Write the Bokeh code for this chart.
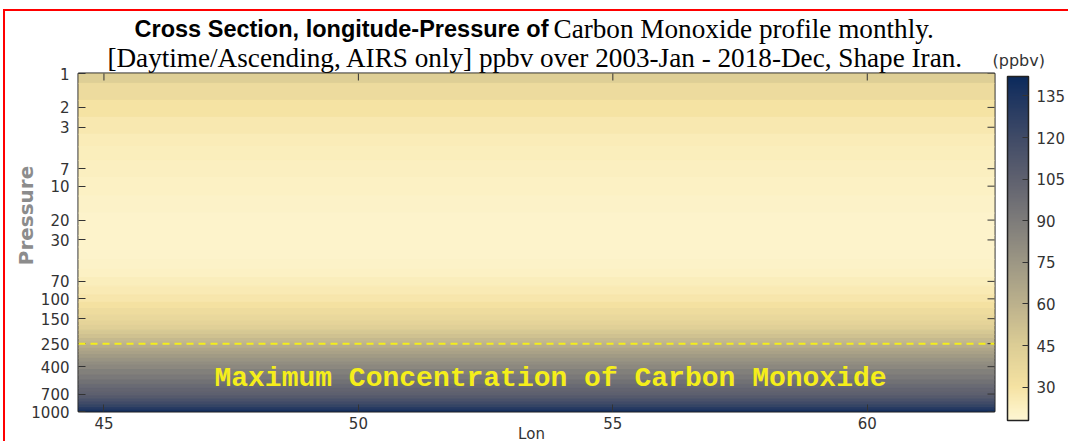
import numpy as np
from bokeh.plotting import figure
from bokeh.models import (Range1d, FixedTicker, PrintfTickFormatter,
                          ColorBar, LinearColorMapper, Span, Label, ColumnDataSource)
from bokeh.embed import file_html
from bokeh.resources import INLINE

# ---------------- data ----------------
title_bold = "Cross Section, longitude-Pressure of"
title_serif = "Carbon Monoxide profile monthly."
title_line2 = "[Daytime/Ascending, AIRS only] ppbv over 2003-Jan - 2018-Dec, Shape Iran."
annotation_text = "Maximum Concentration of Carbon Monoxide"
y_label = "Pressure"
x_label = "Lon"
cbar_title = "(ppbv)"

lon_min, lon_max = 44.5, 62.5
lon_ticks = [45, 50, 55, 60]
pressure_ticks = [1, 2, 3, 7, 10, 20, 30, 70, 100, 150, 250, 400, 700, 1000]
cbar_ticks = [30, 45, 60, 75, 90, 105, 120, 135]
cbar_low, cbar_high = 18, 142
max_level = 250  # hPa, dashed line

pressure = [1, 1.5, 2, 3, 4, 5, 7, 10, 15, 20, 25, 30, 40, 50, 60, 70, 85, 100,
            115, 130, 150, 165, 180, 200, 215, 235, 250, 265, 285, 300, 325, 350,
            375, 400, 450, 500, 550, 600, 650, 700, 750, 800, 850, 900, 950, 1000]
co_ppbv = [44, 35, 30, 27, 25, 24, 23, 22, 21, 20, 20, 20, 20, 21, 22, 24, 26, 28,
           31, 34, 37, 40, 43, 48, 51, 56, 59, 62, 66, 69, 73, 77,
           80, 83, 88, 92, 96, 100, 103, 106, 110, 115, 120, 125, 131, 138]

# ---------------- colormap ----------------
anchor_vals = [18, 22, 30, 45, 60, 75, 90, 105, 120, 135, 142]
anchor_cols = ["#fdf5d2", "#fcf1c4", "#f5e2a2", "#dccd95", "#bcb18c", "#9d9784",
               "#7e7c7a", "#5f616f", "#404b67", "#1e3560", "#0b2a5c"]


def hex2rgb(h):
    return [int(h[i:i + 2], 16) for i in (1, 3, 5)]


rgb = np.array([hex2rgb(c) for c in anchor_cols], dtype=float)
grid = np.linspace(cbar_low, cbar_high, 256)
palette = []
for g in grid:
    r = np.interp(g, anchor_vals, rgb[:, 0])
    gg = np.interp(g, anchor_vals, rgb[:, 1])
    b = np.interp(g, anchor_vals, rgb[:, 2])
    palette.append("#%02x%02x%02x" % (int(round(r)), int(round(gg)), int(round(b))))

mapper = LinearColorMapper(palette=palette, low=cbar_low, high=cbar_high)

# band edges (geometric midpoints between levels)
p_arr = np.array(pressure, dtype=float)
mids = np.sqrt(p_arr[:-1] * p_arr[1:])
tops = np.concatenate([[p_arr[0]], mids])
bottoms = np.concatenate([mids, [p_arr[-1]]])

src = ColumnDataSource(dict(
    left=[lon_min] * len(pressure), right=[lon_max] * len(pressure),
    top=tops, bottom=bottoms, val=co_ppbv))

TICK = "#333333"
FONT = "DejaVu Sans"
W = 1068
H = 441

# ---------------- text overlay (pixel coordinates), sits underneath the chart ----------------
t = figure(width=W, height=H, x_range=Range1d(0, W), y_range=Range1d(H, 0),
           output_backend="svg", toolbar_location=None,
           x_axis_location=None, y_axis_location=None,
           min_border=0, min_border_left=0, min_border_right=0,
           min_border_top=0, min_border_bottom=0,
           margin=(0, 0, -H, 0),
           styles={"box-shadow": "inset 3px 9px 0 0 white, inset 5px 11px 0 0 red"})
t.grid.visible = False
t.outline_line_color = None
t.background_fill_color = None
t.border_fill_color = None

t.add_layout(Label(x=548, y=28, text=title_bold, text_align="right",
                   text_baseline="middle", text_font="Liberation Sans",
                   text_font_style="bold", text_font_size="23.5px", text_color="black"))
t.add_layout(Label(x=553, y=28, text=title_serif, text_align="left",
                   text_baseline="middle", text_font="Liberation Serif",
                   text_font_size="27.2px", text_color="black"))
t.add_layout(Label(x=535, y=57, text=title_line2, text_align="center",
                   text_baseline="middle", text_font="Liberation Serif",
                   text_font_size="27.2px", text_color="black"))
t.add_layout(Label(x=992, y=60, text=cbar_title, text_align="left",
                   text_baseline="middle", text_font=FONT,
                   text_font_size="16px", text_color=TICK))
t.add_layout(Label(x=25, y=215, text=y_label, text_align="center",
                   text_baseline="middle", angle=np.pi / 2, text_font=FONT,
                   text_font_style="bold", text_font_size="20px", text_color="#8c8c8c"))
t.add_layout(Label(x=531, y=433, text=x_label, text_align="center",
                   text_baseline="middle", text_font=FONT,
                   text_font_size="15px", text_color=TICK))

# ---------------- main figure ----------------
p = figure(width=W, height=H, x_range=Range1d(lon_min, lon_max),
           y_range=Range1d(1000, 1), y_axis_type="log",
           output_backend="svg", toolbar_location=None,
           min_border_left=78, min_border_right=71, min_border_top=73,
           min_border_bottom=30)

p.quad(left="left", right="right", top="top", bottom="bottom", source=src,
       fill_color={"field": "val", "transform": mapper},
       line_color={"field": "val", "transform": mapper}, line_width=1)

p.grid.visible = False
p.outline_line_color = "#1a1a1a"
p.outline_line_width = 2
p.background_fill_color = "white"
p.border_fill_color = None

# bottom axis
xa = p.xaxis[0]
xa.ticker = FixedTicker(ticks=lon_ticks)
xa.major_tick_in = 7
xa.major_tick_out = 0
xa.minor_tick_line_color = None
xa.axis_line_color = None
xa.major_tick_line_color = TICK
xa.major_label_text_font = FONT
xa.major_label_text_font_size = "15px"
xa.major_label_text_color = TICK
xa.major_label_standoff = 5

# left axis
ya = p.yaxis[0]
ya.ticker = FixedTicker(ticks=pressure_ticks)
ya.formatter = PrintfTickFormatter(format="%d")
ya.major_tick_in = 7
ya.major_tick_out = 0
ya.minor_tick_line_color = None
ya.axis_line_color = None
ya.major_tick_line_color = TICK
ya.major_label_text_font = FONT
ya.major_label_text_font_size = "15px"
ya.major_label_text_color = TICK
ya.major_label_standoff = 9

# inward ticks on the top and right edges (drawn from the tick lists)
p.scatter(x=lon_ticks, y=[1] * len(lon_ticks), marker="dash", angle=np.pi / 2,
          size=14, line_color=TICK, line_width=1)
p.scatter(x=[lon_max] * len(pressure_ticks), y=pressure_ticks, marker="dash",
          size=14, line_color=TICK, line_width=1)

# colour bar
cb = ColorBar(color_mapper=mapper, ticker=FixedTicker(ticks=cbar_ticks),
              width=21, height=344, margin=0, padding=0, location=(13, -9),
              bar_line_color="#222222", bar_line_width=1.5,
              major_tick_in=6, major_tick_out=0, major_tick_line_color="#333333",
              minor_tick_line_color=None,
              major_label_text_font=FONT, major_label_text_font_size="15px",
              major_label_text_color=TICK, label_standoff=8,
              background_fill_color=None, border_line_color=None)
p.add_layout(cb, "right")

# dashed line at max level
p.add_layout(Span(location=max_level, dimension="width", line_color="#f5ee1a",
                  line_width=2, line_dash="7 5"))

# annotation inside the frame (frame-relative screen units)
p.add_layout(Label(x=550 - 78, y=411 - 378, x_units="screen", y_units="screen",
                   text=annotation_text, text_align="center", text_baseline="middle",
                   text_font="Liberation Mono", text_font_style="bold",
                   text_font_size="28px", text_color="#f5ee1a"))

open("out.html", "w").write(file_html([t, p], INLINE))
